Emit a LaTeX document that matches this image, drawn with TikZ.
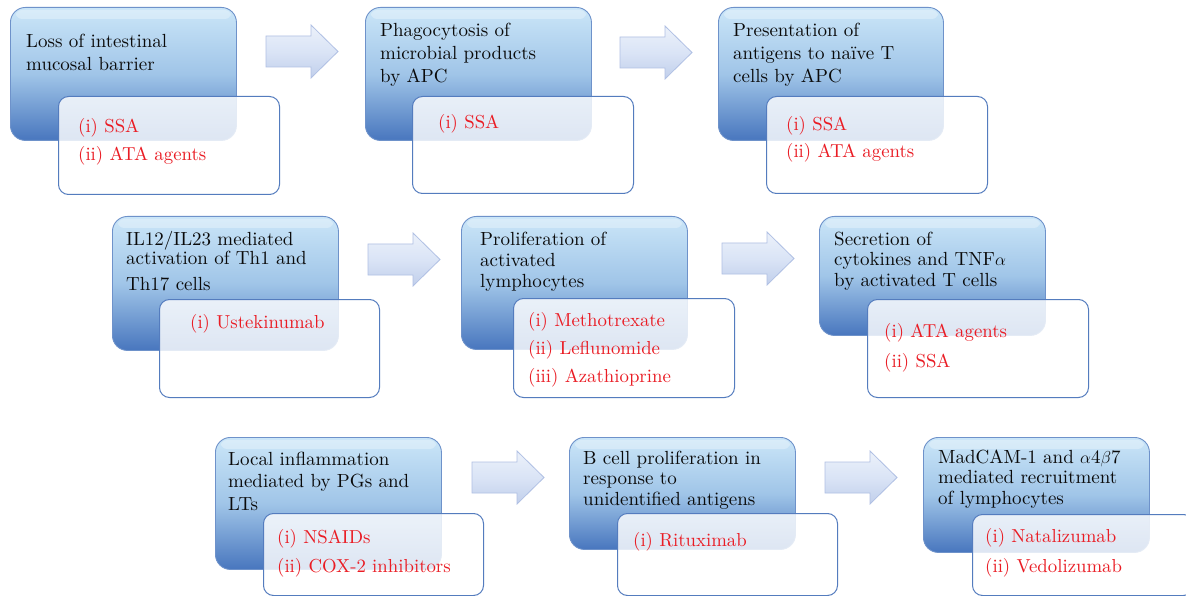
\documentclass[tikz,border=0pt]{standalone}
\usepackage{fontspec}
\setmainfont{lmroman10-regular}[Extension=.otf, ItalicFont=lmroman10-italic, BoldFont=lmroman10-bold]
\usetikzlibrary{calc}
\definecolor{bluetop}{RGB}{203,230,248}
\definecolor{bluemid}{RGB}{160,197,232}
\definecolor{bluebot}{RGB}{72,118,190}
\definecolor{blueedge}{RGB}{110,146,202}
\definecolor{whiteedge}{RGB}{84,124,190}
\definecolor{redtxt}{RGB}{234,28,36}
\definecolor{blacktxt}{RGB}{10,10,10}
\definecolor{arrtop}{RGB}{236,241,250}
\definecolor{arrmid}{RGB}{218,228,246}
\definecolor{arrbot}{RGB}{193,207,235}
\definecolor{arredge}{RGB}{176,192,228}
\tikzset{
  bluebox/.style={rectangle, rounded corners=15pt, draw=blueedge, line width=0.9pt,
    top color=bluetop, bottom color=bluebot, middle color=bluemid,
    anchor=north west, inner sep=0pt},
  whitebox/.style={rectangle, rounded corners=10pt, draw=whiteedge, line width=1pt,
    fill=white, fill opacity=0.82, anchor=north west, inner sep=0pt},
  headtxt/.style={anchor=base west, inner sep=0pt, text width=260pt, align=left,
    font=\fontsize{19}{#1}\selectfont, text=blacktxt},
  headtxt/.default=22,
  drugtxt/.style={anchor=base west, inner sep=0pt, text width=260pt, align=left,
    font=\fontsize{18.8}{#1}\selectfont, text=redtxt},
  drugtxt/.default=28.5,
  blockarrow/.style={draw=arredge, line width=0.8pt, top color=arrtop,
    bottom color=arrbot, middle color=arrmid, line join=miter},
  gloss/.style={fill=white, fill opacity=0.3, rounded corners=6pt}
}
\begin{document}
\begin{tikzpicture}[x=1pt,y=-1pt]
\useasboundingbox (0,0) rectangle (1186,596);
\clip (0,0) rectangle (1186,596);
\fill[white] (0,0) rectangle (1186,596);

% block arrows
\foreach \ax/\ay in {266/25, 620/26, 368/233, 722/232, 472/451, 825/451}
  \shade[blockarrow] (\ax,\ay+11) -- (\ax+45,\ay+11) -- (\ax+45,\ay)
    -- (\ax+72,\ay+26.5) -- (\ax+45,\ay+53) -- (\ax+45,\ay+42) -- (\ax,\ay+42) -- cycle;

% blue boxes and white boxes
\foreach \n/\bx/\by/\bw/\bh/\wx/\wy/\ww/\wh in {
  1/10/7/226/133/58/96/221/98,
  2/365/7/226/133/412/96/221/97,
  3/718/7/225/133/766/96/221/97,
  4/112/216/226/134/159/299/220/98,
  5/461/216/226/133/513/298/221/99,
  6/819/216/226/119/867/299/221/98,
  7/215/437/226/132/263/513/220/82,
  8/569/437/226/112/617/513/220/82,
  9/923/437/226/115/972/514/221/81}
{
  \node[bluebox, minimum width=\bw pt, minimum height=\bh pt] (b\n) at (\bx,\by) {};
  \fill[gloss] ([shift={(6,3)}]b\n.north west) rectangle ([shift={(-6,12)}]b\n.north east);
  \node[whitebox, minimum width=\ww pt, minimum height=\wh pt] (w\n) at (\wx,\wy) {};
}

% headings
\node[headtxt=23] (h1) at (26,48) {Loss of intestinal\\mucosal barrier};
\node[headtxt=23] (h2) at (380,37) {Phagocytosis of\\microbial products\\by APC};
\node[headtxt=23] (h3) at (733,37) {Presentation of\\antigens to naïve T\\cells by APC};
\node[headtxt=20] (h4) at (126,245) {IL12/IL23 mediated\\activation of Th1 and\\[6pt]Th17 cells};
\node[headtxt=21] (h5) at (480,245) {Proliferation of\\activated\\lymphocytes};
\node[headtxt=20.5] (h6) at (834,245) {Secretion of\\cytokines and TNF$\alpha$\\by activated T cells};
\node[headtxt=22.5] (h7) at (228,465) {Local inflammation\\mediated by PGs and\\LTs};
\node[headtxt=20.5] (h8) at (583,464) {B cell proliferation in\\response to\\unidentified antigens};
\node[headtxt=20.5] (h9) at (938,463) {MadCAM-1 and $\alpha$4$\beta$7\\mediated recruitment\\of lymphocytes};

% drugs
\node[drugtxt=28] (d1) at (78,133) {(i) SSA\\(ii) ATA agents};
\node[drugtxt] (d2) at (438,129) {(i) SSA};
\node[drugtxt=27] (d3) at (786,131) {(i) SSA\\(ii) ATA agents};
\node[drugtxt] (d4) at (190,328) {(i) Ustekinumab};
\node[drugtxt=28] (d5) at (528,326) {(i) Methotrexate\\(ii) Leflunomide\\(iii) Azathioprine};
\node[drugtxt=30] (d6) at (884,337) {(i) ATA agents\\(ii) SSA};
\node[drugtxt=29] (d7) at (277,543) {(i) NSAIDs\\(ii) COX-2 inhibitors};
\node[drugtxt] (d8) at (633,546) {(i) Rituximab};
\node[drugtxt=30] (d9) at (985,542) {(i) Natalizumab\\(ii) Vedolizumab};
\end{tikzpicture}
\end{document}
